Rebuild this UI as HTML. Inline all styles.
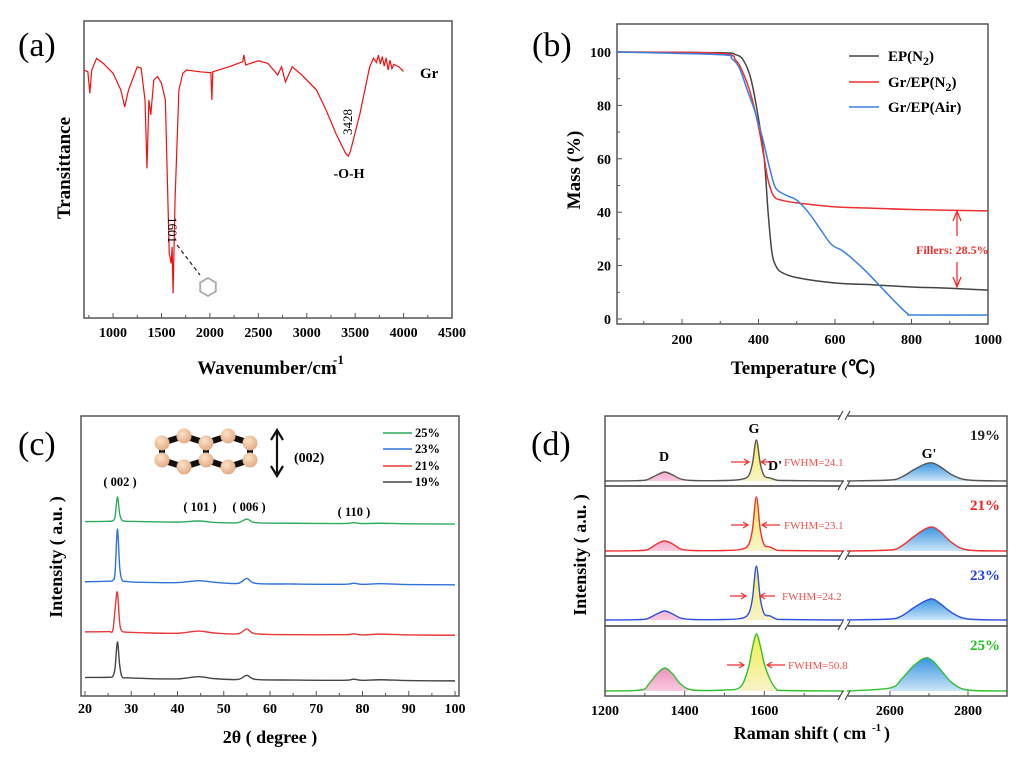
<!DOCTYPE html>
<html><head><meta charset="utf-8"><style>
html,body{margin:0;padding:0;background:#fff}
svg{display:block}
text{font-family:"Liberation Serif",serif;font-weight:bold}
</style></head><body>
<svg id="fig" width="1032" height="759" viewBox="0 0 1032 759" xmlns="http://www.w3.org/2000/svg">
<defs>
<linearGradient id="gD" x1="0" y1="0" x2="0" y2="1"><stop offset="0" stop-color="#e0307f"/><stop offset="1" stop-color="#f8c8de"/></linearGradient>
<linearGradient id="gG" x1="0" y1="0" x2="0" y2="1"><stop offset="0" stop-color="#f2ee40"/><stop offset="1" stop-color="#f8f2c8"/></linearGradient>
<linearGradient id="gGp" x1="0" y1="0" x2="0" y2="1"><stop offset="0" stop-color="#2f8ee0"/><stop offset="1" stop-color="#c8e4f8"/></linearGradient>
<radialGradient id="atom" cx="0.4" cy="0.35" r="0.7"><stop offset="0" stop-color="#fde2c8"/><stop offset="1" stop-color="#e0a880"/></radialGradient>
</defs>
<rect width="1032" height="759" fill="#fff"/>
<g id="pa"></g>
<g id="pb"></g>
<g id="pc"></g>
<g id="pd"></g>
</svg>
<script>
// ---------- Panel (a) data ----------
const aWn = [700,740,760,780,830,900,1000,1080,1120,1160,1250,1290,1330,1350,1370,1390,1420,1460,1500,1540,1580,1600,1610,1620,1640,1680,1720,1760,1900,2010,2020,2030,2200,2340,2350,2370,2500,2600,2700,2740,2780,2850,2950,3100,3200,3300,3400,3428,3450,3550,3650,3690,3720,3740,3760,3780,3800,3820,3840,3860,3880,3900,3950,4000];
const aT  = [83.5,82.9,75.7,83.5,87.4,85.7,82.4,76.8,71.1,76.8,84.6,84.1,73.4,50.4,73.4,68.4,80.1,81.3,79.0,73.4,21.8,18.4,24.0,8.3,39.7,76.8,82.4,83.5,82.9,82.6,73.4,82.9,84.6,86.3,88.6,85.2,86.6,85.7,81.8,84.6,79.5,84.6,81.8,76.8,70.0,62.2,55.5,54.5,56.0,68.9,84.6,87.5,86.0,88.5,85.5,88.0,84.8,87.6,83.5,86.8,84.0,85.4,84.6,83.0];
const aXTicks = [1000,1500,2000,2500,3000,3500,4000,4500];
// ---------- Panel (b) data ----------
const bT_ep  = [30,300,340,360,380,400,415,425,435,445,460,500,600,700,800,900,1000];
const bM_ep  = [100,99.7,99,97,90,75,60,40,25,20,17.5,15.5,13.5,12.8,12,11.5,10.8];
const bT_gn  = [30,300,340,360,380,400,415,425,440,460,500,600,700,800,1000];
const bM_gn  = [100,99.5,97,92,84,72,60,52,46,44.5,43.5,42,41.5,41,40.5];
const bT_air = [30,300,330,350,370,390,410,430,445,470,500,530,560,590,620,650,680,720,760,790,810,1000];
const bM_air = [100,99,97.5,94,86,78,68,56,49,46.5,44.5,40,34,28,25.5,22,18,12,6,2,1.5,1.5];
const bXTicks = [200,400,600,800,1000];
const bYTicks = [0,20,40,60,80,100];
const bLegend = ["EP(N2)","Gr/EP(N2)","Gr/EP(Air)"];
// ---------- Panel (c) data ----------
const cX = [20,25,26,26.5,27,27.5,28,29,32,40,44.5,48,53,55,57,65,76,78,80,84,90,100];
const c25 = [62.3,62.4,62.6,64,71.1,65,62.8,62.4,62.3,62.1,62.5,62.0,61.9,63.2,61.9,61.7,61.6,61.9,61.6,61.7,61.5,61.4];
const c23 = [40.8,41,41.3,44,59.6,46,41.5,40.9,40.6,40.5,41.2,40.6,40.2,42.0,40.2,40.0,39.9,40.3,39.9,40.1,39.8,39.7];
const c21 = [22.9,23.0,23.4,31,37.1,26,23.2,22.8,22.6,22.4,23.2,22.5,22.2,23.9,22.2,21.9,21.9,22.2,21.8,22.1,21.8,21.7];
const c19 = [6.6,6.7,7.0,10,19.3,11,6.9,6.5,6.3,6.1,6.9,6.2,5.9,7.4,5.9,5.7,5.6,6.0,5.6,5.8,5.5,5.4];
const cXTicks = [20,30,40,50,60,70,80,90,100];
const cLegend = ["25%","23%","21%","19%"];
// ---------- Panel (d) data ----------
const dXL = [1200,1290,1310,1330,1350,1370,1390,1420,1500,1540,1560,1570,1580,1590,1600,1615,1630,1650,1800];
const dXR = [2490,2600,2630,2660,2690,2710,2730,2760,2800,2900];
const d19L = [5,5.5,7,11,14,11,7,5.5,5.5,6.5,10,22,46,22,10,8,6,5.5,5];
const d19R = [5,6,9,16,22,23,19,11,6,5];
const d21L = [5,5.5,7,12,15,12,7,5.5,5.5,6.5,11,26,59,26,11,9,6,5.5,5];
const d21R = [5,6,10,19,27,29,24,13,6,5];
const d23L = [6,6.5,8,12,15,12,8,6.5,6.5,7.5,12,27,60,27,12,10,7,6.5,6];
const d23R = [6,7,10,18,25,27,22,13,7,6];
const d25L = [5,6,12,22,28,22,12,6,6,9,28,48,62,50,32,16,7,5.5,5];
const d25R = [5,8,17,30,38,35,26,13,6,5];
const dXTicks = [1200,1400,1600,2600,2800];
const dLabels = ["19%","21%","23%","25%"];
const dFwhm = ["FWHM=24.1","FWHM=23.1","FWHM=24.2","FWHM=50.8"];

const NS="http://www.w3.org/2000/svg";
function mk(parent,tag,attrs,txt){const e=document.createElementNS(NS,tag);for(const k in attrs)e.setAttribute(k,attrs[k]);if(txt!==undefined)e.textContent=txt;parent.appendChild(e);return e;}
function lin(d0,d1,r0,r1){return v=>r0+(v-d0)/(d1-d0)*(r1-r0);}
function smooth(pts){if(!pts.length)return"";let s="M"+pts[0][0].toFixed(2)+","+pts[0][1].toFixed(2);for(let i=0;i<pts.length-1;i++){const p0=pts[i-1]||pts[i],p1=pts[i],p2=pts[i+1],p3=pts[i+2]||p2;const t=0.16;const c1=[p1[0]+(p2[0]-p0[0])*t,p1[1]+(p2[1]-p0[1])*t],c2=[p2[0]-(p3[0]-p1[0])*t,p2[1]-(p3[1]-p1[1])*t];s+="C"+c1[0].toFixed(2)+","+c1[1].toFixed(2)+" "+c2[0].toFixed(2)+","+c2[1].toFixed(2)+" "+p2[0].toFixed(2)+","+p2[1].toFixed(2);}return s;}
function polyline(pts){return "M"+pts.map(p=>p[0].toFixed(2)+","+p[1].toFixed(2)).join("L");}

// ================= Panel A =================
(function(){
const g=document.getElementById('pa');
const x=lin(700,4500,84,452), y=lin(0,100,318,21);
let e=mk(g,'text',{x:18,y:56,'font-size':34,style:'font-weight:normal'},'(a)');

e=mk(g,'rect',{x:84,y:21,width:368,height:297,fill:'none',stroke:'#555','stroke-width':1.5});

for(let v=750;v<=4500;v+=250){const X=x(v);const L=(v%500===0)?5:3;e=mk(g,'line',{x1:X,y1:318,x2:X,y2:318-L,stroke:'#555','stroke-width':1});
}
aXTicks.forEach(v=>{e=mk(g,'text',{x:x(v),y:337,'font-size':14,'text-anchor':'middle'},String(v));
});
e=mk(g,'text',{x:267,y:374,'font-size':19,'text-anchor':'middle'},'Wavenumber/cm');

e=mk(g,'text',{x:333,y:364,'font-size':13},'-1');

e=mk(g,'text',{x:0,y:0,'font-size':19,'text-anchor':'middle',transform:'translate(70,168) rotate(-90)'},'Transittance');

const pts=aWn.map((w,i)=>[x(w),y(aT[i])]);
e=mk(g,'path',{d:polyline(pts),fill:'none',stroke:'#f01010','stroke-width':1.2});

e=mk(g,'text',{x:420,y:78,'font-size':15},'Gr');

e=mk(g,'text',{x:0,y:0,'font-size':13,style:'font-weight:normal','text-anchor':'middle',transform:'translate(352,122) rotate(-90)'},'3428');

e=mk(g,'text',{x:349,y:178,'font-size':14,'text-anchor':'middle'},'-O-H');

e=mk(g,'text',{x:0,y:0,'font-size':13,style:'font-weight:normal','text-anchor':'middle',transform:'translate(168,230) rotate(90)'},'1601');

e=mk(g,'line',{x1:177,y1:245,x2:200,y2:275,stroke:'#222','stroke-width':1.2,'stroke-dasharray':'4,3'});

const hx=[],cx=208,cy=287,r=9;for(let i=0;i<6;i++){const a=Math.PI/6+i*Math.PI/3;hx.push((cx+r*Math.cos(a)).toFixed(1)+','+(cy+r*Math.sin(a)).toFixed(1));}
e=mk(g,'polygon',{points:hx.join(' '),fill:'none',stroke:'#aaa','stroke-width':1.8});

})();

// ================= Panel B =================
(function(){
const g=document.getElementById('pb');
const x=lin(30,1000,617,988), y=lin(0,100,319,52);
let e=mk(g,'text',{x:532,y:56,'font-size':34,style:'font-weight:normal'},'(b)');

e=mk(g,'rect',{x:617,y:24,width:371,height:300,fill:'none',stroke:'#555','stroke-width':1.5});

for(let v=100;v<=1000;v+=100){const X=x(v);const L=(v%200===0)?5:3;e=mk(g,'line',{x1:X,y1:324,x2:X,y2:324-L,stroke:'#555'});
}
for(let v=0;v<=100;v+=10){const Y=y(v);const L=(v%20===0)?5:3;e=mk(g,'line',{x1:617,y1:Y,x2:617+L,y2:Y,stroke:'#555'});
}
bXTicks.forEach(v=>{e=mk(g,'text',{x:x(v),y:344,'font-size':14,'text-anchor':'middle'},String(v));
});
bYTicks.forEach(v=>{e=mk(g,'text',{x:611,y:y(v)+5,'font-size':14,'text-anchor':'end'},String(v));
});
e=mk(g,'text',{x:803,y:374,'font-size':19,'text-anchor':'middle'},'Temperature (℃)');

e=mk(g,'text',{x:0,y:0,'font-size':19,'text-anchor':'middle',transform:'translate(580,170) rotate(-90)'},'Mass (%)');

const series=[[bT_ep,bM_ep,'#444','curve-ep-n2'],[bT_gn,bM_gn,'#f03030','curve-gr-ep-n2'],[bT_air,bM_air,'#3a7fe0','curve-gr-ep-air']];
series.forEach(s=>{const pts=s[0].map((t,i)=>[x(t),y(s[1][i])]);e=mk(g,'path',{d:smooth(pts),fill:'none',stroke:s[2],'stroke-width':1.5});
});
const lc=['#444','#f03030','#3a7fe0'],ly=[56,82,107];
bLegend.forEach((lab,i)=>{const le=mk(g,'g',{});
mk(le,'line',{x1:849,y1:ly[i],x2:879,y2:ly[i],stroke:lc[i],'stroke-width':1.5});
const t=mk(le,'text',{x:888,y:ly[i]+5,'font-size':15});
const m=lab.match(/^(.*)N2\)$/);if(m){t.appendChild(document.createTextNode(m[1]+'N'));mk(t,'tspan',{dy:4,'font-size':12},'2');mk(t,'tspan',{dy:-4},')');}else t.textContent=lab;});
e=mk(g,'path',{d:'M957,213 L957,236 M953,221 L957,211 L961,221',fill:'none',stroke:'#f03030','stroke-width':1.3});

e=mk(g,'path',{d:'M957,262 L957,285 M953,277 L957,287 L961,277',fill:'none',stroke:'#f03030','stroke-width':1.3});

e=mk(g,'text',{x:916,y:254,'font-size':12,fill:'#f03030'},'Fillers:  28.5%');

})();

// ================= Panel C =================
(function(){
const g=document.getElementById('pc');
const x=lin(20,100,85,455), y=lin(0,100,696,416);
let e=mk(g,'text',{x:18,y:455,'font-size':34,style:'font-weight:normal'},'(c)');

e=mk(g,'rect',{x:81,y:416,width:378,height:280,fill:'none',stroke:'#555','stroke-width':1.5});

for(let v=20;v<=100;v+=5){const X=x(v);const L=(v%10===0)?5:3;e=mk(g,'line',{x1:X,y1:696,x2:X,y2:696-L,stroke:'#555'});
}
cXTicks.forEach(v=>{e=mk(g,'text',{x:x(v),y:713,'font-size':14,'text-anchor':'middle'},String(v));
});
e=mk(g,'text',{x:270,y:743,'font-size':18,'text-anchor':'middle'},'2θ ( degree )');

e=mk(g,'text',{x:0,y:0,'font-size':18,'text-anchor':'middle',transform:'translate(62,557) rotate(-90)'},'Intensity ( a.u. )');

const cols=['#2eaa5c','#2f72d8','#e83a3a','#444'];
[[c25,'xrd-25'],[c23,'xrd-23'],[c21,'xrd-21'],[c19,'xrd-19']].forEach((s,i)=>{const pts=cX.map((a,j)=>[x(a),y(s[0][j])]);
e=mk(g,'path',{d:smooth(pts),fill:'none',stroke:cols[i],'stroke-width':1.4});
});
const ly=[433,449,466,482];
cLegend.forEach((lab,i)=>{const le=mk(g,'g',{});
mk(le,'line',{x1:383,y1:ly[i],x2:412,y2:ly[i],stroke:cols[i],'stroke-width':1.5});mk(le,'text',{x:415,y:ly[i]+4,'font-size':12.5},lab);});
[['( 002 )',120,486],['( 101 )',200,511],['( 006 )',249,511],['( 110 )',354,516]].forEach(p=>{e=mk(g,'text',{x:p[1],y:p[2],'font-size':12.5,'text-anchor':'middle'},p[0]);
});
const mol=mk(g,'g',{});
const top=[[162,443],[184,436],[206,443],[228,436],[250,443]],bot=[[162,460],[184,467],[206,460],[228,467],[250,460]];
for(let i=0;i<4;i++){mk(mol,'line',{x1:top[i][0],y1:top[i][1],x2:top[i+1][0],y2:top[i+1][1],stroke:'#111','stroke-width':6});mk(mol,'line',{x1:bot[i][0],y1:bot[i][1],x2:bot[i+1][0],y2:bot[i+1][1],stroke:'#111','stroke-width':6});}
[0,2,4].forEach(i=>mk(mol,'line',{x1:top[i][0],y1:top[i][1],x2:bot[i][0],y2:bot[i][1],stroke:'#111','stroke-width':6}));
top.concat(bot).forEach(p=>mk(mol,'circle',{cx:p[0],cy:p[1],r:7.5,fill:'url(#atom)'}));
e=mk(g,'path',{d:'M277,432 L277,474 M271,440 L277,430 L283,440 M271,466 L277,476 L283,466',fill:'none',stroke:'#111','stroke-width':2.2});

e=mk(g,'text',{x:294,y:462,'font-size':14},'(002)');

})();

// ================= Panel D =================
(function(){
const g=document.getElementById('pd');
const dx=v=>v<=1800?605+(v-1200)/600*239:847+(v-2490)/410*160;
const tops=[416,486,556,626];
let e=mk(g,'text',{x:531,y:455,'font-size':34,style:'font-weight:normal'},'(d)');

const cols=['#555','#f03030','#3050e0','#30c030'];
const lcols=['#222','#f02020','#2040e0','#20c020'];
const data=[[d19L,d19R],[d21L,d21R],[d23L,d23R],[d25L,d25R]];
const clipRanges=[[1290,1410,'url(#gD)'],[1540,1640,'url(#gG)'],[2600,2800,'url(#gGp)']];
data.forEach((s,k)=>{const T=tops[k],B=T+70;const y=v=>B-v;
const sub=mk(g,'g',{});
const pL=dXL.map((a,j)=>[dx(a),y(s[0][j])]),pR=dXR.map((a,j)=>[dx(a),y(s[1][j])]);
clipRanges.forEach((cr,ci)=>{const id='cl'+k+'_'+ci;const cp=mk(g,'clipPath',{id:id});mk(cp,'rect',{x:dx(cr[0]),y:T,width:dx(cr[1])-dx(cr[0]),height:70});
const pts=ci<2?pL:pR;const base=y(ci<2?s[0][0]:s[1][0]);
const f=mk(sub,'path',{d:smooth(pts)+'L'+pts[pts.length-1][0]+','+base+'L'+pts[0][0]+','+base+'Z',fill:cr[2],'clip-path':'url(#'+id+')',opacity:0.95});
});
e=mk(sub,'path',{d:smooth(pL),fill:'none',stroke:cols[k],'stroke-width':1.4});

e=mk(sub,'path',{d:smooth(pR),fill:'none',stroke:cols[k],'stroke-width':1.4});

e=mk(sub,'rect',{x:605,y:T,width:402,height:70,fill:'none',stroke:'#555','stroke-width':1.5});

e=mk(sub,'text',{x:1000,y:T+24,'font-size':15,'text-anchor':'end',fill:lcols[k]},dLabels[k]);
});
[416,486,556,626,696].forEach(Y=>{mk(g,'rect',{x:840,y:Y-3,width:8,height:6,fill:'#fff'});
e=mk(g,'path',{d:'M838,'+(Y+4)+' L843,'+(Y-5)+' M845,'+(Y+4)+' L850,'+(Y-5),stroke:'#444','stroke-width':1.2,fill:'none'});
});
[1300,1400,1500,1600,1700,2600,2700,2800].forEach(v=>{const L=(v%200===0)?5:3;e=mk(g,'line',{x1:dx(v),y1:696,x2:dx(v),y2:696-L,stroke:'#555'});
});
dXTicks.forEach(v=>{e=mk(g,'text',{x:dx(v),y:715,'font-size':14,'text-anchor':'middle'},String(v));
});
e=mk(g,'text',{x:800,y:739,'font-size':18,'text-anchor':'middle'},'Raman shift ( cm');

e=mk(g,'text',{x:872,y:731,'font-size':11},'-1');

e=mk(g,'text',{x:884,y:739,'font-size':18},')');

e=mk(g,'text',{x:0,y:0,'font-size':18,'text-anchor':'middle',transform:'translate(586,555) rotate(-90)'},'Intensity ( a.u. )');

[['D',664,461],['G',754,433],["D'",775,470],["G'",929,458]].forEach(p=>{e=mk(g,'text',{x:p[1],y:p[2],'font-size':14,'text-anchor':'middle'},p[0]);
});
const fw=[[731,749,773,761,784,462],[731,748,780,762,784,525],[730,746,775,760,782,596],[727,744,785,767,788,665]];
fw.forEach((f,k)=>{const a=mk(g,'g',{});
mk(a,'path',{d:'M'+f[0]+','+f[5]+'L'+f[1]+','+f[5]+'M'+(f[1]-5)+','+(f[5]-3)+'L'+f[1]+','+f[5]+'L'+(f[1]-5)+','+(f[5]+3),stroke:'#f03030',fill:'none','stroke-width':1.2});
mk(a,'path',{d:'M'+f[2]+','+f[5]+'L'+f[3]+','+f[5]+'M'+(f[3]+5)+','+(f[5]-3)+'L'+f[3]+','+f[5]+'L'+(f[3]+5)+','+(f[5]+3),stroke:'#f03030',fill:'none','stroke-width':1.2});
mk(a,'text',{x:f[4],y:f[5]+4,'font-size':11,fill:'#f05050',style:'font-weight:normal'},dFwhm[k]);});
})();
</script>
</body></html>
